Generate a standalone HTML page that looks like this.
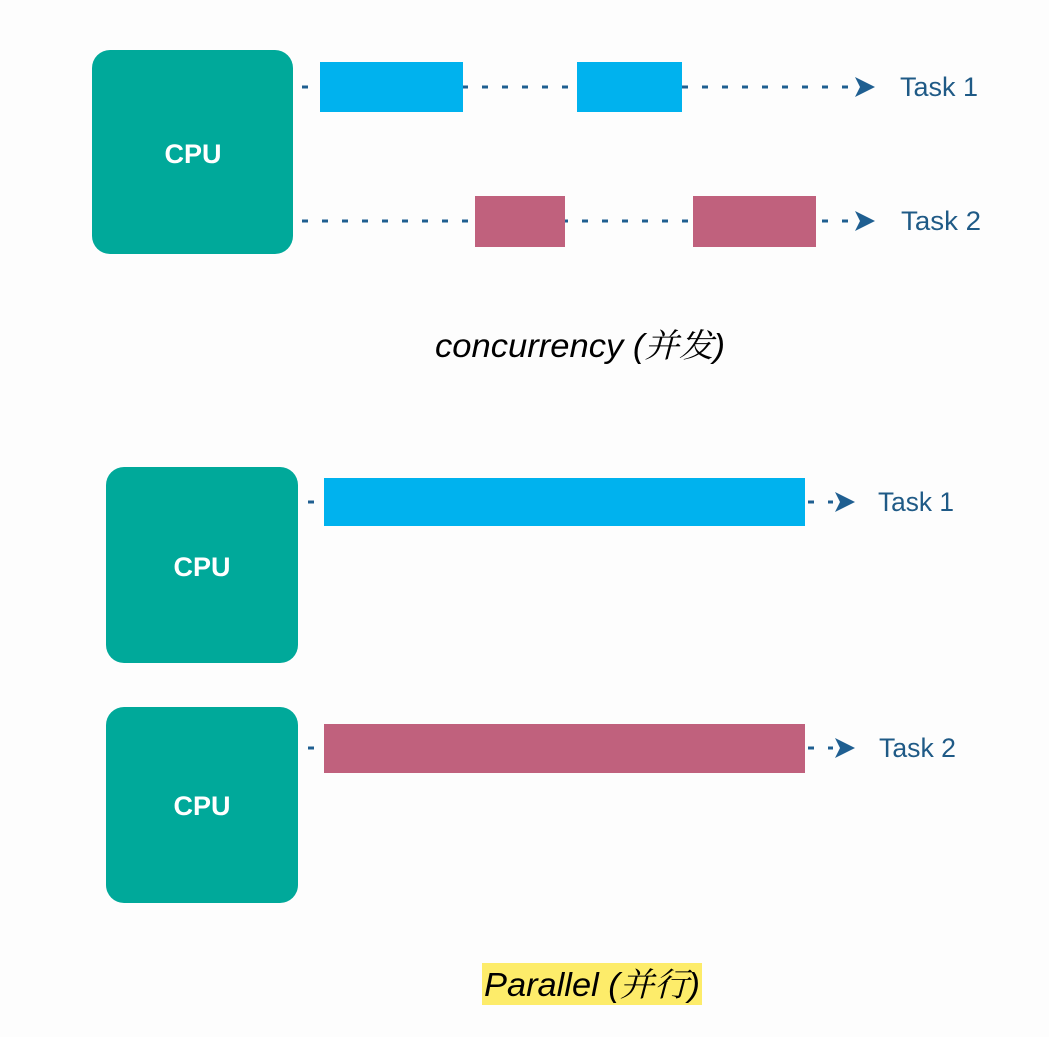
<!DOCTYPE html>
<html><head><meta charset="utf-8"><style>
html,body{margin:0;padding:0;background:#fdfdfd;}
svg{display:block;}
</style></head><body>
<svg width="1049" height="1037" viewBox="0 0 1049 1037" xmlns="http://www.w3.org/2000/svg">
<defs>
<path id="ah" d="M0,-10 L20,0 L0,10 L5,0 Z" fill="#1f5f91"/>
</defs>
<rect width="1049" height="1037" fill="#fdfdfd"/>
<g font-family="'Liberation Sans',sans-serif">
<rect x="92" y="50" width="201" height="204" rx="18" fill="#00a99a"/>
<text x="193" y="163" fill="#fff" font-size="27" font-weight="bold" text-anchor="middle">CPU</text>
<g stroke="#1f5f91" stroke-width="3" stroke-dasharray="6 14">
<line x1="302" y1="87" x2="852" y2="87"/>
<line x1="302" y1="221" x2="852" y2="221"/>
<line x1="308" y1="502" x2="833" y2="502"/>
<line x1="308" y1="748" x2="833" y2="748"/>
</g>
<rect x="320" y="62" width="143" height="50" fill="#00b2ee"/>
<rect x="577" y="62" width="105" height="50" fill="#00b2ee"/>
<rect x="475" y="196" width="90" height="51" fill="#c0617d"/>
<rect x="693" y="196" width="123" height="51" fill="#c0617d"/>
<use href="#ah" x="855" y="87"/>
<use href="#ah" x="855" y="221"/>
<text x="900" y="96" fill="#1f5a86" font-size="27" textLength="78" lengthAdjust="spacingAndGlyphs">Task 1</text>
<text x="901" y="230" fill="#1f5a86" font-size="27" textLength="80" lengthAdjust="spacingAndGlyphs">Task 2</text>
<text x="435" y="357" font-size="33" font-style="italic" fill="#000" textLength="290" lengthAdjust="spacingAndGlyphs" font-family="'Liberation Sans','Noto Serif CJK SC',sans-serif">concurrency (并发)</text>

<rect x="106" y="467" width="192" height="196" rx="18" fill="#00a99a"/>
<text x="202" y="576" fill="#fff" font-size="27" font-weight="bold" text-anchor="middle">CPU</text>
<rect x="106" y="707" width="192" height="196" rx="18" fill="#00a99a"/>
<text x="202" y="815" fill="#fff" font-size="27" font-weight="bold" text-anchor="middle">CPU</text>
<rect x="324" y="478" width="481" height="48" fill="#00b2ee"/>
<rect x="324" y="724" width="481" height="49" fill="#c0617d"/>
<use href="#ah" x="835" y="502"/>
<use href="#ah" x="835" y="748"/>
<text x="878" y="511" fill="#1f5a86" font-size="27" textLength="76" lengthAdjust="spacingAndGlyphs">Task 1</text>
<text x="879" y="757" fill="#1f5a86" font-size="27" textLength="77" lengthAdjust="spacingAndGlyphs">Task 2</text>
<rect x="482" y="963" width="220" height="42" fill="#fdec6a"/>
<text x="484" y="996" font-size="33" font-style="italic" fill="#000" textLength="216" lengthAdjust="spacingAndGlyphs" font-family="'Liberation Sans','Noto Serif CJK SC',sans-serif">Parallel (并行)</text>
</g>
</svg>
</body></html>
